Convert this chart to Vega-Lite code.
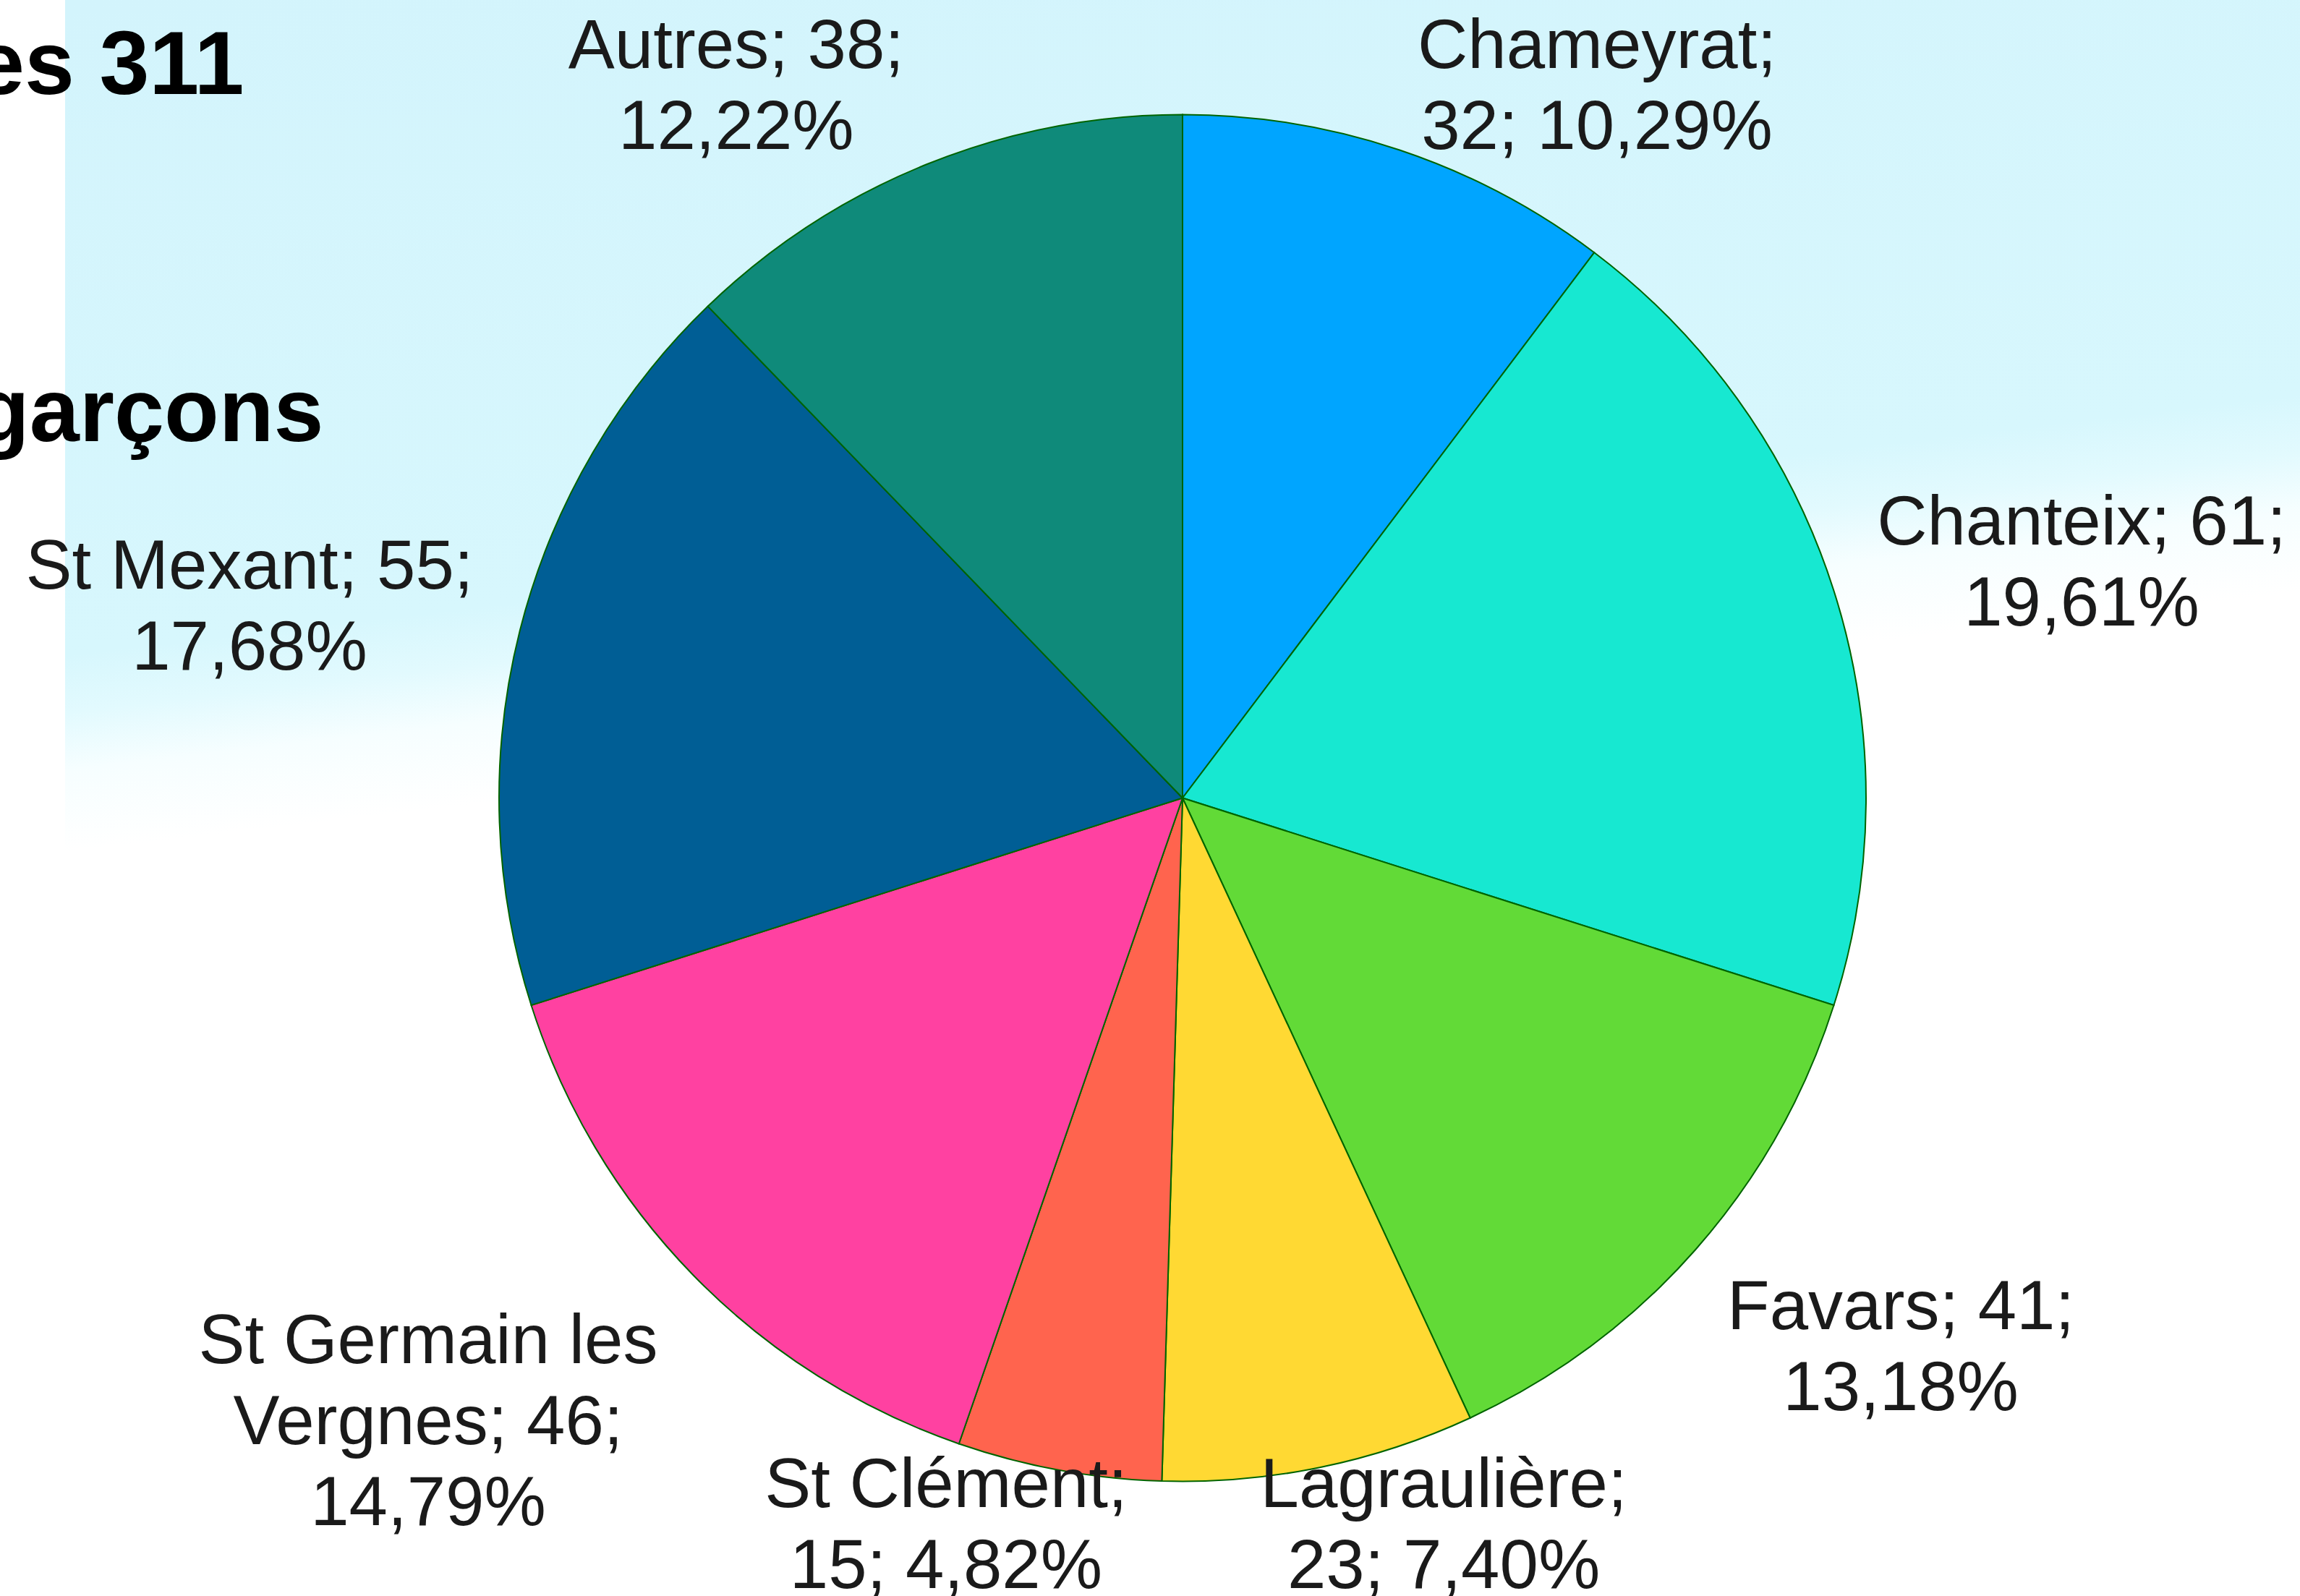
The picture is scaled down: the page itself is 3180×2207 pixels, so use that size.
{
  "$schema": "https://vega.github.io/schema/vega-lite/v6.json",
  "width": 3090,
  "height": 2207,
  "autosize": "none",
  "padding": {"left": 90, "top": 0, "right": 0, "bottom": 0},
  "background": "#FFFFFF",
  "title": {
    "text": ["es 311", "garçons"],
    "anchor": "start",
    "frame": "group",
    "orient": "top",
    "font": "Liberation Sans",
    "fontSize": 124,
    "fontWeight": "bold",
    "color": "#000000",
    "lineHeight": 480,
    "baseline": "alphabetic",
    "offset": 0,
    "dx": -125,
    "dy": 734
  },
  "view": {
    "stroke": null,
    "fill": {
      "gradient": "linear",
      "x1": 0, "y1": 0, "x2": 0.163, "y2": 1,
      "stops": [
        {"offset": 0, "color": "#D3F4FC"},
        {"offset": 0.40, "color": "#D7F7FD"},
        {"offset": 0.435, "color": "#E2FAFE"},
        {"offset": 0.47, "color": "#F6FEFF"},
        {"offset": 0.52, "color": "#FFFFFF"},
        {"offset": 1, "color": "#FFFFFF"}
      ]
    }
  },
  "data": {
    "values": [
      {"commune": "Chameyrat", "value": 32, "pct": 10.29, "idx": 1, "label": "Chameyrat;\n32; 10,29%"},
      {"commune": "Chanteix", "value": 61, "pct": 19.61, "idx": 2, "label": "Chanteix; 61;\n19,61%"},
      {"commune": "Favars", "value": 41, "pct": 13.18, "idx": 3, "label": "Favars; 41;\n13,18%"},
      {"commune": "Lagraulière", "value": 23, "pct": 7.40, "idx": 4, "label": "Lagraulière;\n23; 7,40%"},
      {"commune": "St Clément", "value": 15, "pct": 4.82, "idx": 5, "label": "St Clément;\n15; 4,82%"},
      {"commune": "St Germain les Vergnes", "value": 46, "pct": 14.79, "idx": 6, "label": "St Germain les\nVergnes; 46;\n14,79%"},
      {"commune": "St Mexant", "value": 55, "pct": 17.68, "idx": 7, "label": "St Mexant; 55;\n17,68%"},
      {"commune": "Autres", "value": 38, "pct": 12.22, "idx": 8, "label": "Autres; 38;\n12,22%"}
    ]
  },
  "layer": [
    {
      "mark": {"type": "arc", "outerRadius": 945, "stroke": "#006400", "strokeWidth": 2},
      "encoding": {
        "theta": {"field": "value", "type": "quantitative", "stack": true},
        "order": {"field": "idx", "type": "quantitative"},
        "color": {
          "field": "commune",
          "type": "nominal",
          "scale": {
            "domain": ["Chameyrat", "Chanteix", "Favars", "Lagraulière", "St Clément", "St Germain les Vergnes", "St Mexant", "Autres"],
            "range": ["#00A5FF", "#17E8D1", "#62DA37", "#FFD933", "#FF644E", "#FF41A1", "#005E95", "#0F8A7A"]
          },
          "legend": null
        }
      }
    },
    {
      "mark": {"type": "text", "font": "Liberation Sans", "fontSize": 96, "lineHeight": 112, "lineBreak": "\n", "align": "center", "baseline": "middle", "color": "#1A1A1A"},
      "encoding": {
        "theta": {
          "field": "value", "type": "quantitative", "stack": null,
          "scale": {"type": "linear", "zero": false, "nice": false,
            "domain": [15, 23, 32, 38, 41, 46, 55, 61],
            "range": [3.4727, 2.7789, 0.5042, 5.7470, 2.1884, 4.0874, 4.9544, 1.2745]}
        },
        "radius": {
          "field": "value", "type": "quantitative",
          "scale": {"type": "linear", "zero": false, "nice": false,
            "domain": [15, 23, 32, 38, 41, 46, 55, 61],
            "range": [1006.1, 1017.7, 1186.1, 1208.0, 1218.1, 1286.1, 1328.7, 1299.6]}
        },
        "text": {"field": "label", "type": "nominal"}
      }
    }
  ],
  "resolve": {"scale": {"theta": "independent", "radius": "independent"}}
}
